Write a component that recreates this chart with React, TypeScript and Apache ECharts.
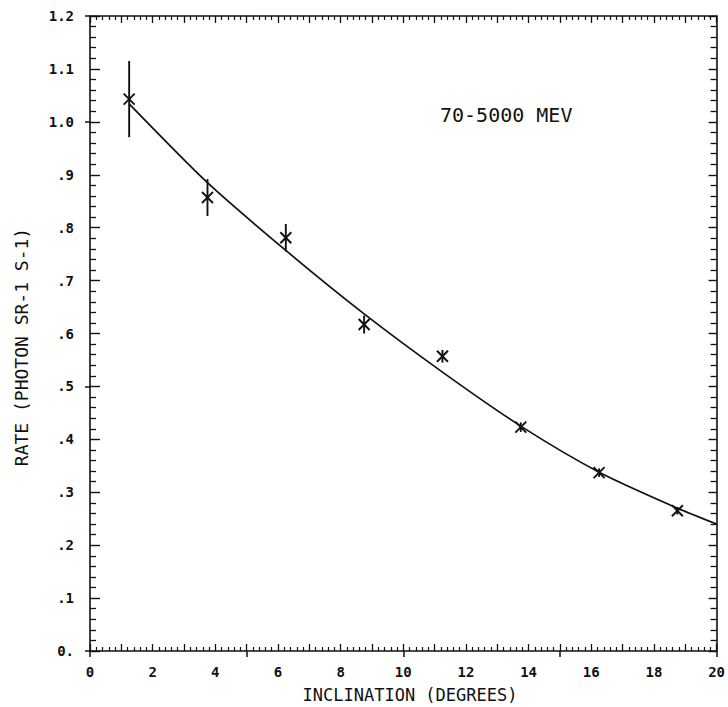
import React, { useEffect, useRef } from "react";
import * as echarts from "echarts";

// Measured points (inclination in degrees, rate) with error half-widths
const pointX = [1.25, 3.75, 6.25, 8.75, 11.25, 13.75, 16.25, 18.75];
const pointY = [1.043, 0.857, 0.781, 0.617, 0.557, 0.423, 0.337, 0.265];
const pointErr = [0.072, 0.035, 0.026, 0.017, 0.012, 0.009, 0.008, 0.007];

// Fitted curve
const curveX = [1.25, 3.75, 6.25, 8.75, 11.25, 13.75, 16.25, 18.75, 20];
const curveY = [1.034, 0.885, 0.757, 0.637, 0.527, 0.425, 0.338, 0.27, 0.24];

const xTickLabels = ["0", "2", "4", "6", "8", "10", "12", "14", "16", "18", "20"];
const yTickLabels = ["0.", ".1", ".2", ".3", ".4", ".5", ".6", ".7", ".8", ".9", "1.0", "1.1", "1.2"];

const xTitle = "INCLINATION (DEGREES)";
const yTitle = "RATE (PHOTON SR-1 S-1)";
const annotation = "70-5000 MEV";

const MONO = "'DejaVu Sans Mono', monospace";

export default function App() {
  const ref = useRef<HTMLDivElement>(null);

  useEffect(() => {
    if (!ref.current) return;
    const chart = echarts.init(ref.current, null, { renderer: "svg" });
    const black = "#111";
    const labelStyle = {
      color: black,
      fontFamily: MONO,
      fontWeight: "bold" as const,
      fontSize: 14,
    };

    const xLabelFmt = (v: number) => {
      const r = Math.round(v);
      if (r % 2 !== 0) return "";
      return xTickLabels[r / 2] ?? "";
    };
    const yLabelFmt = (v: number) => {
      const idx = Math.round(v * 10);
      return yTickLabels[idx] ?? "";
    };

    const line = { onZero: false, lineStyle: { color: black, width: 1.6 } };

    const option: any = {
      animation: false,
      backgroundColor: "#fff",
      grid: { left: 90, right: 8, top: 16, bottom: 56, containLabel: false },
      xAxis: [
        {
          type: "value",
          position: "bottom",
          min: 0,
          max: 20,
          interval: 1,
          axisLine: { show: true, ...line },
          axisTick: { show: true, inside: true, length: 7, lineStyle: { color: black, width: 1.3 } },
          minorTick: { show: true, splitNumber: 5, length: 4, lineStyle: { color: black, width: 1.2 } },
          axisLabel: { show: true, formatter: xLabelFmt, margin: 14, ...labelStyle },
          splitLine: { show: false },
          minorSplitLine: { show: false },
        },
        {
          type: "value",
          position: "bottom",
          min: 0,
          max: 20,
          interval: 5,
          axisLine: { show: false, onZero: false },
          axisTick: { show: true, inside: false, length: 6, lineStyle: { color: black, width: 1.5 } },
          axisLabel: { show: false },
          splitLine: { show: false },
        },
        {
          type: "value",
          position: "top",
          min: 0,
          max: 20,
          interval: 1,
          axisLine: { show: true, ...line },
          axisTick: { show: true, inside: true, length: 7, lineStyle: { color: black, width: 1.3 } },
          minorTick: { show: true, splitNumber: 5, length: 4, lineStyle: { color: black, width: 1.2 } },
          axisLabel: { show: false },
          splitLine: { show: false },
          minorSplitLine: { show: false },
        },
      ],
      yAxis: [
        {
          type: "value",
          position: "left",
          min: 0,
          max: 1.2,
          interval: 0.1,
          axisLine: { show: true, ...line },
          axisTick: { show: true, inside: true, length: 10, lineStyle: { color: black, width: 1.4 } },
          minorTick: { show: true, splitNumber: 5, length: 6, lineStyle: { color: black, width: 1.3 } },
          axisLabel: { show: true, formatter: yLabelFmt, margin: 16, ...labelStyle },
          splitLine: { show: false },
          minorSplitLine: { show: false },
        },
        {
          type: "value",
          position: "left",
          min: 0,
          max: 1.2,
          interval: 0.5,
          axisLine: { show: false, onZero: false },
          axisTick: { show: true, inside: false, length: 5, lineStyle: { color: black, width: 1.5 } },
          axisLabel: { show: false },
          splitLine: { show: false },
        },
        {
          type: "value",
          position: "right",
          min: 0,
          max: 1.2,
          interval: 0.1,
          axisLine: { show: true, ...line },
          axisTick: { show: true, inside: true, length: 8, lineStyle: { color: black, width: 1.4 } },
          minorTick: { show: true, splitNumber: 5, length: 6, lineStyle: { color: black, width: 1.3 } },
          axisLabel: { show: false },
          splitLine: { show: false },
          minorSplitLine: { show: false },
        },
      ],
      series: [
        {
          type: "line",
          xAxisIndex: 0,
          yAxisIndex: 0,
          data: curveX.map((x, i) => [x, curveY[i]]),
          showSymbol: false,
          symbol: "none",
          smooth: 0.25,
          lineStyle: { color: black, width: 1.7 },
          silent: true,
        },
        {
          type: "custom",
          xAxisIndex: 0,
          yAxisIndex: 0,
          data: pointX.map((x, i) => [x, pointY[i], pointErr[i]]),
          encode: { x: 0, y: 1 },
          renderItem: (_params: any, api: any) => {
            const x = api.value(0);
            const y = api.value(1);
            const e = api.value(2);
            const c = api.coord([x, y]);
            const top = api.coord([x, y + e]);
            const bot = api.coord([x, y - e]);
            const s = 5.5;
            const st = { stroke: black, lineWidth: 1.9 };
            return {
              type: "group",
              children: [
                { type: "line", shape: { x1: c[0], y1: top[1], x2: c[0], y2: bot[1] }, style: st },
                { type: "line", shape: { x1: c[0] - s, y1: c[1] - s, x2: c[0] + s, y2: c[1] + s }, style: st },
                { type: "line", shape: { x1: c[0] - s, y1: c[1] + s, x2: c[0] + s, y2: c[1] - s }, style: st },
              ],
            };
          },
          silent: true,
        },
      ],
      graphic: [
        {
          type: "text",
          left: 440,
          top: 105,
          style: { text: annotation, fill: black, font: `20px ${MONO}` },
        },
        {
          type: "text",
          x: 410,
          y: 695,
          style: {
            text: xTitle,
            fill: black,
            font: `17px ${MONO}`,
            align: "center",
            verticalAlign: "middle",
          },
        },
        {
          type: "text",
          x: 21,
          y: 347,
          rotation: Math.PI / 2,
          style: {
            text: yTitle,
            fill: black,
            font: `18px ${MONO}`,
            align: "center",
            verticalAlign: "middle",
          },
        },
      ],
    };

    chart.setOption(option);
    return () => chart.dispose();
  }, []);

  return (
    <div
      ref={ref}
      style={{ position: "absolute", left: 0, top: 0, width: 728, height: 707, background: "#fff" }}
    />
  );
}
